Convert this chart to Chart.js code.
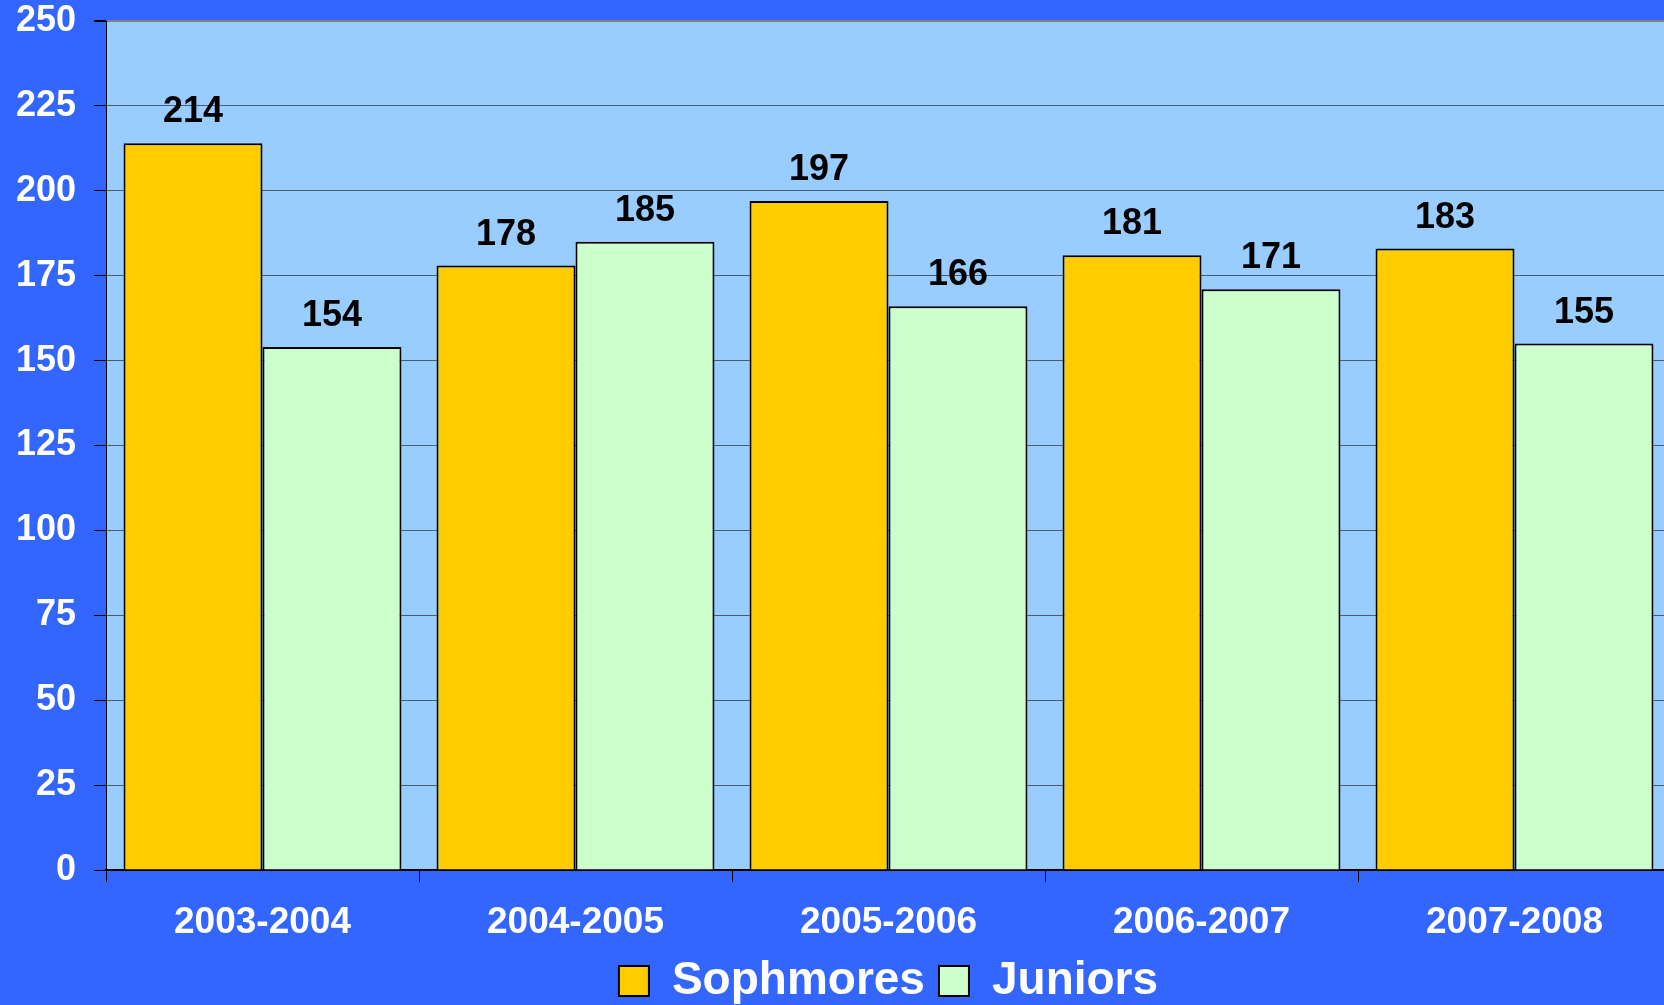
<!DOCTYPE html>
<html>
<head>
<meta charset="utf-8">
<title>Sophmores y Juniors</title>
<script src="https://cdn.jsdelivr.net/npm/chart.js@4.4.1/dist/chart.umd.min.js"></script>
<style>
    html, body { margin: 0; padding: 0; background: #3366FF; overflow: hidden; }
    #contenedor { width: 1671px; height: 1005px; }
</style>
</head>
<body>
<div id="contenedor"><canvas id="graficoAlumnos" width="1671" height="1005"></canvas></div>
<script>
// Datos
const periodos = ['2003-2004', '2004-2005', '2005-2006', '2006-2007', '2007-2008'];
const sophmores = [214, 178, 197, 181, 183];
const juniors = [154, 185, 166, 171, 155];

// Eje Y: 0 a 250 de 25 en 25
const ejeYMin = 0;
const ejeYMax = 250;
const ejeYPaso = 25;

const fuente = '"Liberation Sans", Arial, sans-serif';
Chart.defaults.font.family = fuente;

// Fondo celeste del área del gráfico
const fondoAreaGrafico = {
    id: 'fondoAreaGrafico',
    beforeDraw(chart) {
        const { ctx, chartArea } = chart;
        ctx.save();
        ctx.fillStyle = '#99CCFF';
        ctx.fillRect(chartArea.left, chartArea.top, chartArea.right - chartArea.left, chartArea.bottom - chartArea.top);
        ctx.restore();
    }
};

// Números encima de cada barra
const etiquetasValores = {
    id: 'etiquetasValores',
    afterDatasetsDraw(chart) {
        const ctx = chart.ctx;
        ctx.save();
        ctx.font = 'bold 36px ' + fuente;
        ctx.fillStyle = '#000000';
        ctx.textAlign = 'center';
        ctx.textBaseline = 'alphabetic';
        chart.data.datasets.forEach((dataset, i) => {
            chart.getDatasetMeta(i).data.forEach((barra, j) => {
                ctx.fillText(dataset.data[j], barra.x, barra.y - 21);
            });
        });
        ctx.restore();
    }
};

const ctx = document.getElementById('graficoAlumnos').getContext('2d');

new Chart(ctx, {
    type: 'bar',
    data: {
        labels: periodos,
        datasets: [{
            label: 'Sophmores',
            data: sophmores,
            backgroundColor: '#FFCC00',
            borderColor: '#000000',
            borderWidth: 2
        }, {
            label: 'Juniors',
            data: juniors,
            backgroundColor: '#CCFFCC',
            borderColor: '#000000',
            borderWidth: 2
        }]
    },
    options: {
        responsive: false,
        animation: false,
        devicePixelRatio: 1,
        categoryPercentage: 0.888,
        barPercentage: 1,
        layout: {
            padding: { top: 0, left: 0, right: 0, bottom: -9 }
        },
        plugins: {
            tooltip: { enabled: false },
            legend: {
                position: 'bottom',
                fullSize: false,
                labels: {
                    color: '#FFFFFF',
                    font: { size: 46, weight: 'bold' },
                    boxWidth: 30,
                    boxHeight: 30,
                    padding: 14
                }
            }
        },
        scales: {
            x: {
                offset: true,
                grid: {
                    display: true,
                    offset: true,
                    drawOnChartArea: false,
                    drawTicks: true,
                    tickLength: 12,
                    color: '#000000'
                },
                border: { display: true, color: '#000000', width: 2 },
                ticks: {
                    color: '#FFFFFF',
                    font: { size: 37, weight: 'bold' },
                    padding: 19,
                    maxRotation: 0
                },
                afterFit: escala => { escala.height = 74; }
            },
            y: {
                min: ejeYMin,
                max: ejeYMax,
                ticks: {
                    stepSize: ejeYPaso,
                    color: '#FFFFFF',
                    font: { size: 36, weight: 'bold' },
                    padding: 18
                },
                grid: {
                    color: c => c.tick.value === ejeYMax ? '#808080' : '#4B5B70',
                    lineWidth: c => c.tick.value === ejeYMax ? 2 : 1,
                    tickLength: 12,
                    tickColor: '#000000'
                },
                border: { display: true, color: '#000000', width: 1 },
                afterFit: escala => {
                    escala.width = 106;
                    escala.paddingTop = 21; // el 250 queda pegado arriba
                }
            }
        }
    },
    plugins: [fondoAreaGrafico, etiquetasValores]
});
</script>
</body>
</html>
